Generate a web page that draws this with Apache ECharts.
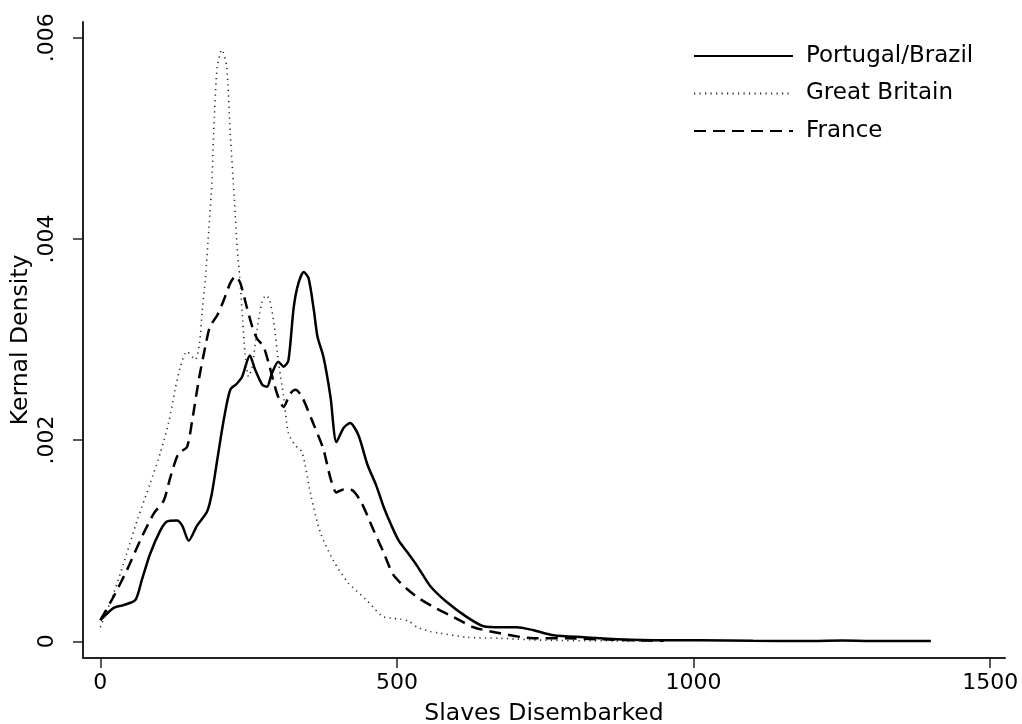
<!DOCTYPE html>
<html>
<head>
<meta charset="utf-8">
<script src="https://cdn.jsdelivr.net/npm/echarts@6/dist/echarts.min.js"></script>
<style>
  html, body { margin: 0; padding: 0; background: #fff; }
  #chart { width: 1022px; height: 724px; }
</style>
</head>
<body>
<div id="chart"></div>
<script>
// kernel density estimates
const ptX = [0, 22, 39, 59, 70, 84, 101, 112, 129, 138, 149, 163, 180, 188, 197, 208, 219, 230, 239, 252,
  261, 273, 281, 289, 300, 309, 317, 326, 334, 343, 351, 360, 366, 376, 388, 398, 410, 421, 435, 450,
  465, 478, 490, 503, 517, 534, 556, 584, 618, 646, 675, 702, 730, 764, 815, 871, 950, 1011, 1100, 1200,
  1250, 1300, 1400];
const ptY = [.00021, .00033, .00036, .00041, .00061, .00087, .00110, .00119, .00120, .00115, .00100, .00115,
  .00129, .00147, .00180, .00220, .00250, .00256, .00263, .00284, .00270, .00255, .00253, .00266, .00278,
  .00273, .00279, .00332, .00356, .00367, .00361, .00329, .00303, .00283, .00243, .00198, .00212, .00217,
  .00205, .00176, .00155, .00133, .00116, .00100, .00089, .00075, .00055, .00039, .00024, .00015, .00014,
  .00014, .00011, .00006, .00004, .00002, .00001, .00001, .000005, .000004, .000008, .000004, .000004];

const gbX = [0, 22, 39, 62, 84, 101, 115, 126, 135, 146, 160, 167, 172, 177, 183, 188, 191, 197, 205, 213,
  219, 226, 231, 235, 240, 244, 250, 256, 264, 272, 279, 285, 292, 300, 309, 317, 328, 340, 355, 371,
  393, 418, 447, 475, 490, 506, 520, 534, 555, 573, 618, 674, 750, 850, 950];
const gbY = [.00014, .00047, .00077, .00120, .00157, .00187, .00217, .00250, .00273, .00288, .00280, .00295,
  .00330, .00360, .00410, .00455, .00505, .00571, .00588, .00571, .00505, .00439, .00389, .00362, .00319,
  .00286, .00263, .00273, .00309, .00336, .00344, .00340, .00319, .00279, .00243, .00207, .00195, .00188,
  .00145, .00108, .00080, .00058, .00042, .00025, .00023, .00022, .00020, .00014, .00010, .00008, .00004,
  .00003, .00001, .000005, .000003];

const frX = [0, 22, 45, 67, 90, 107, 118, 132, 146, 155, 166, 177, 185, 197, 208, 219, 228, 236, 247, 256,
  264, 275, 284, 298, 309, 320, 329, 340, 360, 376, 388, 398, 410, 425, 440, 461, 477, 494, 517, 539,
  565, 596, 629, 674, 730, 787, 843, 900, 950];
const frY = [.00021, .00044, .00071, .00100, .00127, .00140, .00163, .00187, .00193, .00220, .00260, .00293,
  .00313, .00324, .00339, .00356, .00363, .00356, .00332, .00313, .00301, .00293, .00276, .00246, .00233,
  .00246, .00250, .00243, .00215, .00191, .00162, .00148, .00151, .00150, .00138, .00110, .00089, .00066,
  .00052, .00042, .00033, .00024, .00014, .00008, .00003, .00003, .00002, .00001, .000005];

const xTicks = [0, 500, 1000, 1500];
const yTicks = [0, .002, .004, .006];
const names = ['Portugal/Brazil', 'Great Britain', 'France'];

const zip = (xs, ys) => xs.map((x, i) => [x, ys[i]]);
const font = 'DejaVu Sans, sans-serif';

const chart = echarts.init(document.getElementById('chart'), null, { renderer: 'canvas' });

chart.setOption({
  animation: false,
  backgroundColor: '#fff',
  textStyle: { fontFamily: font, color: '#000' },
  grid: { left: 83, right: 17, top: 22, bottom: 66, outerBoundsMode: 'none', containLabel: false },
  legend: {
    orient: 'vertical',
    left: 693,
    top: 43,
    padding: 0,
    itemWidth: 99,
    itemHeight: 14,
    itemGap: 11.5,
    data: names,
    itemStyle: { color: 'rgba(0,0,0,0)', borderWidth: 0 },
    textStyle: { fontSize: 23, color: '#000', fontFamily: font, lineHeight: 26, padding: [0, 0, 0, 8] }
  },
  xAxis: {
    type: 'value',
    min: -29.2,
    max: 1525,
    name: 'Slaves Disembarked',
    nameLocation: 'middle',
    nameMoveOverlap: false,
    nameGap: 44,
    nameTextStyle: { fontSize: 23.5, color: '#000', fontFamily: font },
    splitLine: { show: false },
    axisLine: { show: true, onZero: false, lineStyle: { color: '#222', width: 2 } },
    axisTick: { show: true, length: 10, customValues: xTicks, lineStyle: { color: '#222', width: 1.5 } },
    axisLabel: {
      customValues: xTicks, margin: 14, fontSize: 22, color: '#000', fontFamily: font,
      formatter: v => String(v)
    }
  },
  yAxis: {
    type: 'value',
    min: -0.000166,
    max: 0.006156,
    name: 'Kernal Density',
    nameLocation: 'middle',
    nameMoveOverlap: false,
    nameRotate: 90,
    nameGap: 50,
    nameTextStyle: { fontSize: 23.5, color: '#000', fontFamily: font },
    splitLine: { show: false },
    axisLine: { show: true, onZero: false, lineStyle: { color: '#222', width: 2 } },
    axisTick: { show: true, length: 10, customValues: yTicks, lineStyle: { color: '#222', width: 1.5 } },
    axisLabel: {
      customValues: yTicks,
      rotate: 90,
      margin: 25,
      fontSize: 22,
      color: '#000',
      fontFamily: font,
      formatter: v => (v === 0 ? '0' : String(+v.toFixed(3)).replace('0.', '.'))
    }
  },
  series: [
    {
      name: names[0], type: 'line', data: zip(ptX, ptY), smooth: 0.25, symbol: 'none',
      lineStyle: { color: '#000', width: 2.5, type: 'solid' },
      itemStyle: { color: '#000' }
    },
    {
      name: names[1], type: 'line', data: zip(gbX, gbY), smooth: 0.25, symbol: 'none',
      lineStyle: { color: '#2a2a2a', width: 1.6, type: [1.2, 4.3] },
      itemStyle: { color: '#2a2a2a' }
    },
    {
      name: names[2], type: 'line', data: zip(frX, frY), smooth: 0.25, symbol: 'none',
      lineStyle: { color: '#000', width: 2.5, type: [12, 7] },
      itemStyle: { color: '#000' }
    }
  ]
});
</script>
</body>
</html>
